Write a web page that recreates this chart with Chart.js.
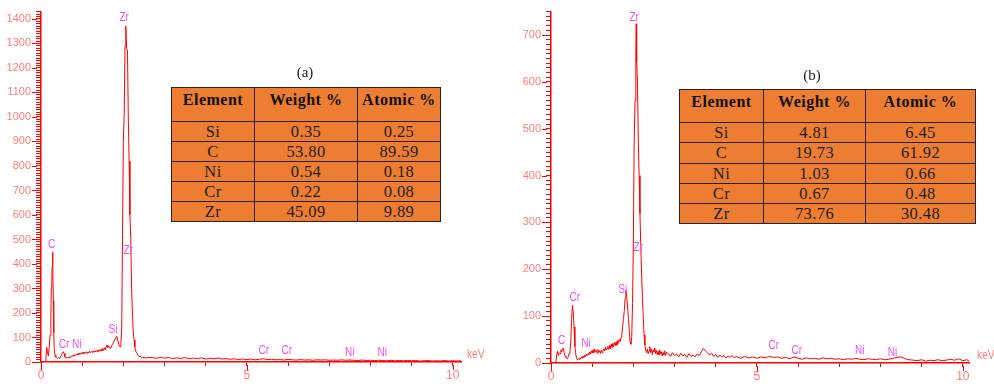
<!DOCTYPE html>
<html>
<head>
<meta charset="utf-8">
<script src="https://cdn.jsdelivr.net/npm/chart.js@4.4.1/dist/chart.umd.min.js"></script>
<style>
  body { margin: 0; background: #fff; width: 994px; height: 387px; position: relative; overflow: hidden; }
  canvas { position: absolute; top: 0; }
  #specA { left: 0; }
  #specB { left: 497px; }
  .tag { position: absolute; font: 15px "Liberation Serif", "Times New Roman", serif; color: #222; transform: translate(-50%, -50%); }
  table.eds { position: absolute; border-collapse: collapse; background: #ed7d31; table-layout: fixed;
              font-family: "Liberation Serif", "Times New Roman", serif; color: #1e1e1e; border: 1.5px solid #222; }
  table.eds td { border: 1px solid #2b2118; text-align: center; padding: 0; font-size: 16.5px; letter-spacing: 0.4px; line-height: 19px; }
  table.eds tr.hd td { font-weight: bold; font-size: 16px; letter-spacing: 0.5px; vertical-align: top; line-height: 18px; padding-top: 3px; color: #111; }
</style>
</head>
<body>
<canvas id="specA" width="497" height="387"></canvas>
<canvas id="specB" width="497" height="387"></canvas>
<script>
// ---- spectrum (a) : energy in keV, counts ----
const energyA = [
  0.08,0.10,0.12,0.14,0.16,0.18,0.20,0.22,0.24,0.25,0.26,0.27,0.28,0.29,0.30,0.31,0.32,0.34,0.36,0.38,
  0.40,0.42,0.44,0.46,0.48,0.50,0.52,0.54,0.56,0.58,0.60,0.62,0.64,0.66,0.68,0.70,0.72,0.74,0.76,0.78,
  0.80,0.82,0.84,0.86,0.88,0.90,0.92,0.94,0.96,0.98,1.00,1.02,1.04,1.06,1.08,1.10,1.12,1.14,1.16,1.18,
  1.20,1.22,1.24,1.26,1.28,1.30,1.32,1.34,1.36,1.38,1.40,1.42,1.44,1.46,1.48,1.50,1.52,1.54,1.56,1.58,
  1.60,1.62,1.64,1.66,1.68,1.70,1.72,1.74,1.76,1.78,1.80,1.82,1.84,1.86,1.88,1.90,1.92,1.94,1.96,1.98,
  2.00,2.02,2.04,2.06,2.08,2.10,2.12,2.14,2.16,2.18,2.20,2.22,2.24,2.26,2.28,2.30,2.32,2.34,2.36,2.38,
  2.40,2.42,2.44,2.46,2.48,2.50,2.55,2.60,2.70,2.80,
  2.9,3.0,3.1,3.2,3.3,3.4,3.5,3.6,3.7,3.8,3.9,4.0,4.1,4.2,4.3,4.4,4.5,4.6,4.7,4.8,4.9,5.0,5.1,5.2,5.3,5.4,5.5,
  5.6,5.7,5.8,5.9,6.0,6.1,6.2,6.3,6.4,6.5,6.6,6.7,6.8,6.9,7.0,7.1,7.2,7.3,7.4,7.5,7.6,7.7,7.8,7.9,8.0,8.1,
  8.2,8.3,8.4,8.5,8.6,8.7,8.8,8.9,9.0,9.1,9.2,9.3,9.4,9.5,9.6,9.7,9.8,9.9,10.0,10.1,10.2
];
const countsA = [
  0,2,20,60,35,25,60,110,200,300,310,390,448,390,250,120,55,28,20,16,
  14,18,15,20,22,30,38,42,35,22,15,18,16,20,17,22,19,25,22,28,
  24,30,27,32,28,35,30,36,31,38,33,40,34,39,35,42,36,41,37,44,
  38,43,39,45,40,46,41,47,42,49,43,50,44,52,46,55,47,58,50,62,
  70,58,66,60,55,62,68,72,80,86,95,100,105,90,78,65,62,75,130,520,
  900,1005,1290,1371,1280,1270,1000,820,600,505,300,200,127,90,61,45,38,32,26,24,
  20,22,18,21,17,20,16,19,18,15,
  19,16,18,14,17,15,18,13,16,14,17,12,15,13,16,12,14,11,13,10,12,10,12,9,11,13,10,
  11,9,10,8,11,9,8,10,8,9,7,9,8,9,7,8,7,9,7,8,7,6,8,6,7,6,
  7,6,5,7,5,6,5,6,5,6,4,5,6,4,5,4,6,4,5,4,5
];

// ---- spectrum (b) ----
const energyB = [
  0.10,0.12,0.14,0.16,0.18,0.20,0.22,0.24,0.26,0.28,0.30,0.32,0.34,0.36,0.38,0.40,0.42,0.44,0.46,0.48,
  0.50,0.52,0.54,0.56,0.58,0.60,0.62,0.64,0.66,0.68,0.70,0.72,0.74,0.76,0.78,0.80,0.82,0.84,0.86,0.88,
  0.90,0.92,0.94,0.96,0.98,1.00,1.02,1.04,1.06,1.08,1.10,1.12,1.14,1.16,1.18,1.20,1.22,1.24,1.26,1.28,
  1.30,1.32,1.34,1.36,1.38,1.40,1.42,1.44,1.46,1.48,1.50,1.52,1.54,1.56,1.58,1.60,1.62,1.64,1.66,1.68,
  1.70,1.72,1.74,1.76,1.78,1.80,1.82,1.84,1.86,1.88,1.90,1.92,1.94,1.96,1.98,2.00,2.02,2.04,2.06,2.07,
  2.08,2.10,2.12,2.14,2.16,2.18,2.20,2.22,2.24,2.26,2.28,2.30,2.32,2.34,2.36,2.38,2.40,2.42,2.44,2.46,
  2.48,2.50,2.52,2.54,2.56,2.58,2.60,2.62,2.64,2.66,2.68,2.70,2.72,2.74,2.76,2.78,2.80,
  2.85,2.90,2.95,3.00,3.05,3.10,3.15,3.20,3.25,3.30,3.35,3.40,3.45,3.50,3.55,3.60,3.65,
  3.70,3.75,3.80,3.85,3.90,3.95,4.00,4.05,4.10,4.15,4.20,4.25,4.30,4.35,4.40,4.45,4.50,
  4.6,4.7,4.8,4.9,5.0,5.1,5.2,5.3,5.4,5.5,5.6,5.7,5.8,5.9,6.0,6.1,6.2,6.3,6.4,6.5,6.6,6.7,6.8,6.9,7.0,7.1,7.2,7.3,
  7.4,7.5,7.6,7.7,7.8,7.9,8.0,8.1,8.2,8.3,8.4,8.5,8.6,8.7,8.8,8.9,9.0,9.1,9.2,9.3,9.4,9.5,9.6,9.7,9.8,9.9,10.0,10.1,10.15
];
const countsB = [
  0,5,18,25,16,22,20,28,24,30,32,22,15,12,10,9,14,20,24,45,
  95,123,110,77,35,20,10,7,9,8,11,9,13,10,15,12,17,14,19,16,
  20,18,24,19,26,21,28,22,30,24,27,21,29,23,26,20,27,22,25,30,
  26,34,27,31,36,29,38,30,40,33,42,35,44,37,45,38,48,42,50,46,
  55,62,78,95,112,138,155,140,119,95,70,45,40,55,127,258,474,560,663,724,
  645,600,474,400,319,250,190,140,98,60,38,28,22,30,20,26,35,22,30,18,
  28,24,32,20,27,18,25,17,28,19,24,15,22,17,26,16,23,
  20,14,22,16,19,13,21,15,18,12,20,14,17,13,19,16,24,
  31,26,22,17,21,14,18,12,17,13,16,11,15,12,16,11,14,
  10,14,11,13,10,13,11,14,12,13,10,12,9,13,10,8,11,9,10,8,11,9,10,8,9,7,9,8,
  10,8,7,9,8,7,9,7,8,10,12,13,9,7,6,5,7,4,6,5,7,5,6,8,6,9,5,7,4
];

// ---- peak markers: name, keV position, label height (counts) ----
const peakNamesA = ['C', 'Cr', 'Ni', 'Si', 'Zr', 'Zr', 'Cr', 'Cr', 'Ni', 'Ni'];
const peakKeVA   = [0.26, 0.56, 0.87, 1.75, 2.02, 2.12, 5.41, 5.97, 7.50, 8.29];
const peakLevelA = [480, 72, 70, 132, 1405, 456, 47, 47, 39, 39];

const peakNamesB = ['C', 'Cr', 'Ni', 'Si', 'Zr', 'Zr', 'Cr', 'Cr', 'Ni', 'Ni'];
const peakKeVB   = [0.26, 0.58, 0.85, 1.74, 2.02, 2.12, 5.41, 5.97, 7.50, 8.29];
const peakLevelB = [48, 139, 41, 156, 738, 247, 36, 27, 26, 23];

// ---- composition tables ----
const tableHeader = ['Element', 'Weight %', 'Atomic %'];
const elements = ['Si', 'C', 'Ni', 'Cr', 'Zr'];
const weightA = [0.35, 53.80, 0.54, 0.22, 45.09];
const atomicA = [0.25, 89.59, 0.18, 0.08, 9.89];
const weightB = [4.81, 19.73, 1.03, 0.67, 73.76];
const atomicB = [6.45, 61.92, 0.66, 0.48, 30.48];

const narrow = "'Liberation Sans Narrow', 'Arial Narrow', 'Liberation Sans', Arial, sans-serif";
const axisRed = '#ff0000';
const tickText = '#ff7b7b';
const peakPink = '#f04cf0';

// text squeezed sideways, the spectra software uses a narrow face
function narrowText(ctx, text, x, y, align) {
    ctx.save();
    ctx.translate(x, y);
    ctx.scale(0.84, 1);
    ctx.textAlign = align;
    ctx.fillText(text, 0, 0);
    ctx.restore();
}

// minor ticks come from the scales themselves (short), this lengthens the major ones
// and writes the unit and the element markers
const edsMarks = {
    id: 'edsMarks',
    afterDraw(chart, args, opts) {
        const { ctx, chartArea, scales: { x, y } } = chart;
        ctx.save();
        ctx.strokeStyle = axisRed;
        ctx.lineWidth = 1;
        ctx.beginPath();
        y.ticks.forEach(t => {
            if (t.value % 100 !== 0) return;
            const py = Math.round(y.getPixelForValue(t.value)) + 0.5;
            ctx.moveTo(chartArea.left - 9, py);
            ctx.lineTo(chartArea.left - 4, py);
        });
        x.ticks.forEach(t => {
            if (t.value % 5 !== 0) return;
            const px = Math.round(x.getPixelForValue(t.value)) + 0.5;
            ctx.moveTo(px, chartArea.bottom + 3);
            ctx.lineTo(px, chartArea.bottom + 8);
        });
        ctx.stroke();

        ctx.font = '12px ' + narrow;
        ctx.textBaseline = 'middle';
        ctx.fillStyle = tickText;
        narrowText(ctx, 'keV', chartArea.right + opts.unitGap, chartArea.bottom - 7, 'left');

        ctx.fillStyle = peakPink;
        opts.names.forEach((n, i) => {
            narrowText(ctx, n, x.getPixelForValue(opts.keV[i]), y.getPixelForValue(opts.level[i]), 'center');
        });
        ctx.restore();
    }
};

function makeSpectrum(id, energy, counts, cfg) {
    const points = energy.map((e, i) => ({ x: e, y: counts[i] }));
    return new Chart(document.getElementById(id), {
        type: 'line',
        data: {
            datasets: [{
                data: points,
                borderColor: axisRed,
                borderWidth: 1,
                pointRadius: 0,
                tension: 0,
                fill: false
            }]
        },
        options: {
            responsive: false,
            animation: false,
            devicePixelRatio: 1,
            layout: { padding: { left: 0, right: cfg.padRight, top: cfg.padTop, bottom: 0 } },
            plugins: {
                legend: { display: false },
                tooltip: { enabled: false },
                edsMarks: { names: cfg.names, keV: cfg.keV, level: cfg.level, unitGap: cfg.unitGap }
            },
            scales: {
                x: {
                    type: 'linear',
                    min: 0,
                    max: cfg.xMax,
                    afterFit: s => { s.height = cfg.xHeight; },
                    border: { color: axisRed, width: 1.5 },
                    grid: { drawOnChartArea: false, color: axisRed, tickLength: 4, lineWidth: 1 },
                    ticks: {
                        stepSize: 1, includeBounds: false, autoSkip: false, maxRotation: 0, padding: 2,
                        color: tickText, font: { family: narrow, size: 12 },
                        callback: v => (v % 5 === 0 ? String(v) : '')
                    }
                },
                y: {
                    min: 0,
                    max: cfg.yMax,
                    afterFit: s => { s.width = cfg.yWidth; },
                    border: { color: axisRed, width: 1.5 },
                    grid: { drawOnChartArea: false, color: axisRed, tickLength: 5, lineWidth: 1 },
                    ticks: {
                        stepSize: 10, includeBounds: false, autoSkip: false, padding: 5,
                        color: tickText, font: { family: narrow, size: 11 },
                        callback: v => (v % 100 === 0 ? String(v) : '')
                    }
                }
            }
        },
        plugins: [edsMarks]
    });
}

makeSpectrum('specA', energyA, countsA, {
    xMax: 10.2, yMax: 1430, yWidth: 41, xHeight: 25, padRight: 36, padTop: 8, unitGap: 6,
    names: peakNamesA, keV: peakKeVA, level: peakLevelA
});
makeSpectrum('specB', energyB, countsB, {
    xMax: 10.15, yMax: 750, yWidth: 54, xHeight: 24, padRight: 25, padTop: 11, unitGap: 8,
    names: peakNamesB, keV: peakKeVB, level: peakLevelB
});

function makeTable(left, top, widths, headH, rowH, weights, atomics) {
    const t = document.createElement('table');
    t.className = 'eds';
    t.style.left = left + 'px';
    t.style.top = top + 'px';
    const cg = document.createElement('colgroup');
    widths.forEach(w => { const c = document.createElement('col'); c.style.width = w + 'px'; cg.appendChild(c); });
    t.appendChild(cg);
    const hr = t.insertRow();
    hr.className = 'hd';
    hr.style.height = headH + 'px';
    tableHeader.forEach(h => { hr.insertCell().textContent = h; });
    elements.forEach((el, i) => {
        const r = t.insertRow();
        r.style.height = rowH + 'px';
        r.insertCell().textContent = el;
        r.insertCell().textContent = weights[i].toFixed(2);
        r.insertCell().textContent = atomics[i].toFixed(2);
    });
    document.body.appendChild(t);
}

function addTag(text, x, y) {
    const d = document.createElement('div');
    d.className = 'tag';
    d.textContent = text;
    d.style.left = x + 'px';
    d.style.top = y + 'px';
    document.body.appendChild(d);
}

makeTable(171, 87, [83, 103, 83], 34, 20, weightA, atomicA);
makeTable(679, 89, [84, 102, 110], 33, 20.3, weightB, atomicB);
addTag('(a)', 305, 72);
addTag('(b)', 812, 75);
</script>
</body>
</html>
